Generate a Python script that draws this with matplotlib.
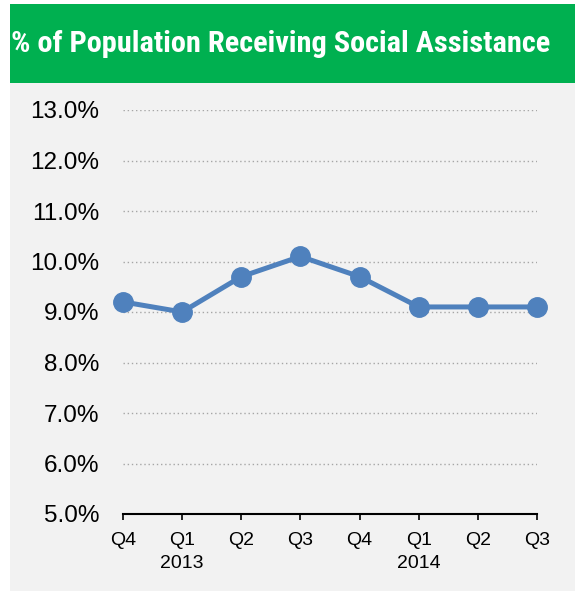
import matplotlib
matplotlib.use('Agg')
import matplotlib.pyplot as plt
from matplotlib import font_manager
from matplotlib.patches import Rectangle

# data
quarters = ['Q4', 'Q1\n2013', 'Q2', 'Q3', 'Q4', 'Q1\n2014', 'Q2', 'Q3']
share = [9.2, 9.0, 9.7, 10.1, 9.7, 9.1, 9.1, 9.1]
y_ticks = [5, 6, 7, 8, 9, 10, 11, 12, 13]
title = '% of Population Receiving Social Assistance'


def pick_font(names):
    for n in names:
        try:
            font_manager.findfont(font_manager.FontProperties(family=n), fallback_to_default=False)
            return n
        except ValueError:
            continue
    return 'DejaVu Sans'


title_font = pick_font(['Liberation Sans Narrow', 'Roboto Condensed', 'DejaVu Sans Condensed',
                        'Liberation Sans'])

W, H = 575, 591
fig = plt.figure(figsize=(W / 100, H / 100), dpi=100)
fig.patch.set_facecolor('white')

# panel background + green header
fig.add_artist(Rectangle((10 / W, 0), 565 / W, (H - 4) / H, transform=fig.transFigure,
                         facecolor='#F2F2F2', edgecolor='none', zorder=0))
fig.add_artist(Rectangle((10 / W, (H - 83) / H), 565 / W, 79 / H, transform=fig.transFigure,
                         facecolor='#00B050', edgecolor='none', zorder=1))
t = fig.text(281 / W, (H - 44) / H, title, ha='center', va='center', color='white',
             fontsize=20, fontweight='bold', family=title_font)
# scale title so it spans about the same width as the reference (~538 px)
r = fig.canvas.get_renderer()
w = t.get_window_extent(r).width
t.set_fontsize(20 * 538 / w)

ax = fig.add_axes([123 / W, 77 / H, 414 / W, 404 / H])
ax.set_facecolor('none')
x = list(range(len(share)))
ax.plot(x, share, color='#4F81BD', linewidth=3.6, marker='o', markersize=14,
        clip_on=False, zorder=3)

ax.set_xlim(0, len(share) - 1)
ax.set_ylim(5, 13)
ax.set_yticks(y_ticks)
ax.set_yticklabels([f'{v:.1f}%' for v in y_ticks])
ax.set_xticks(x)
ax.set_xticklabels(quarters, linespacing=1.45)

for v in y_ticks[1:]:
    ax.axhline(v, color='#A6A6A6', linewidth=1, linestyle=(0, (1, 2)), zorder=1)

for s in ['top', 'right', 'left']:
    ax.spines[s].set_visible(False)
ax.spines['bottom'].set_color('black')
ax.spines['bottom'].set_linewidth(1.5)

ax.tick_params(axis='y', length=0, pad=17, labelsize=17.5,
               labelfontfamily='Liberation Sans')
ax.tick_params(axis='x', direction='out', length=4.5, width=1.2, pad=8.5, labelsize=14,
               labelfontfamily='Liberation Sans')

fig.savefig('out.png', dpi=100)
